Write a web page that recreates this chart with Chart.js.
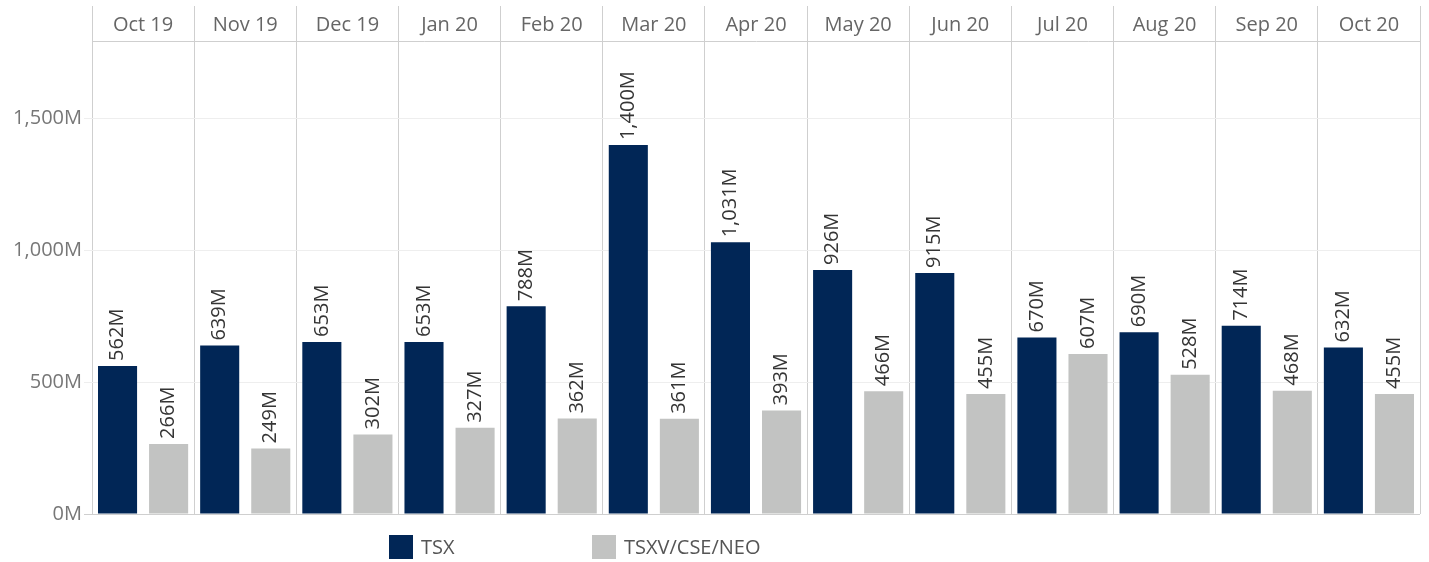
<!DOCTYPE html>
<html>
<head>
<meta charset="utf-8">
<script src="https://cdn.jsdelivr.net/npm/chart.js@4.4.0/dist/chart.umd.min.js"></script>
<style>
body { margin: 0; background: #fff; }
#wrap { width: 1429px; height: 562px; }
</style>
</head>
<body>
<div id="wrap"><canvas id="volumi" width="1429" height="562"></canvas></div>
<script>
// monthly values, millions
var months = ['Oct 19', 'Nov 19', 'Dec 19', 'Jan 20', 'Feb 20', 'Mar 20', 'Apr 20',
              'May 20', 'Jun 20', 'Jul 20', 'Aug 20', 'Sep 20', 'Oct 20'];
var tsx = [562, 639, 653, 653, 788, 1400, 1031, 926, 915, 670, 690, 714, 632];
var venture = [266, 249, 302, 327, 362, 361, 393, 466, 455, 607, 528, 468, 455];
var yTicks = [0, 500, 1000, 1500];

var FONT = '"Open Sans", "Noto Sans", sans-serif';

// etichette ruotate sopra le barre
var barLabels = {
  id: 'barLabels',
  afterDatasetsDraw: function(chart) {
    var c = chart.ctx;
    c.save();
    c.font = '20px ' + FONT;
    c.fillStyle = '#353535';
    c.textAlign = 'left';
    c.textBaseline = 'middle';
    chart.data.datasets.forEach(function(ds, i) {
      chart.getDatasetMeta(i).data.forEach(function(bar, j) {
        c.save();
        c.translate(bar.x, bar.y - 5);
        c.rotate(-Math.PI / 2);
        c.fillText(ds.data[j].toLocaleString('en-US') + 'M', 0, 0);
        c.restore();
      });
    });
    c.restore();
  }
};

// legenda in basso
var legendBox = {
  id: 'legendBox',
  afterDraw: function(chart) {
    var c = chart.ctx;
    var xs = [389, 592];
    c.save();
    c.font = '20px ' + FONT;
    c.textBaseline = 'middle';
    c.textAlign = 'left';
    chart.data.datasets.forEach(function(ds, i) {
      c.fillStyle = ds.backgroundColor;
      c.fillRect(xs[i], 535, 24, 24);
      c.fillStyle = '#555';
      c.fillText(ds.label, xs[i] + 32, 548);
    });
    c.restore();
  }
};

var ctx = document.getElementById('volumi');
window.myBar = new Chart(ctx, {
  type: 'bar',
  data: {
    labels: months,
    datasets: [{
      label: 'TSX',
      data: tsx,
      backgroundColor: '#012656',
      categoryPercentage: 1,
      barPercentage: 0.765
    }, {
      label: 'TSXV/CSE/NEO',
      data: venture,
      backgroundColor: '#c2c3c2',
      categoryPercentage: 1,
      barPercentage: 0.765
    }]
  },
  options: {
    responsive: false,
    animation: false,
    layout: { padding: { top: 6, right: 9, bottom: 48, left: 0 } },
    plugins: {
      legend: { display: false },
      tooltip: { enabled: false }
    },
    scales: {
      x: {
        position: 'top',
        offset: true,
        grid: { offset: true, color: '#cfcfcf', tickLength: 35 },
        border: { color: '#cfcfcf' },
        ticks: {
          color: '#666',
          font: { family: FONT, size: 20 },
          padding: -31,
          maxRotation: 0,
          autoSkip: false
        },
        afterFit: function(s) { s.height = 35; }
      },
      y: {
        min: 0,
        max: 1795,
        border: { display: false },
        grid: {
          tickLength: 8,
          color: function(c) { return c.tick && c.tick.value === 0 ? '#cfcfcf' : '#eeeeee'; }
        },
        ticks: {
          color: '#777',
          padding: 2,
          font: { family: FONT, size: 20 },
          callback: function(v) { return v.toLocaleString('en-US') + 'M'; }
        },
        afterBuildTicks: function(s) {
          s.ticks = yTicks.map(function(v) { return { value: v }; });
        },
        afterFit: function(s) { s.width = 92; }
      }
    }
  },
  plugins: [barLabels, legendBox]
});
</script>
</body>
</html>
